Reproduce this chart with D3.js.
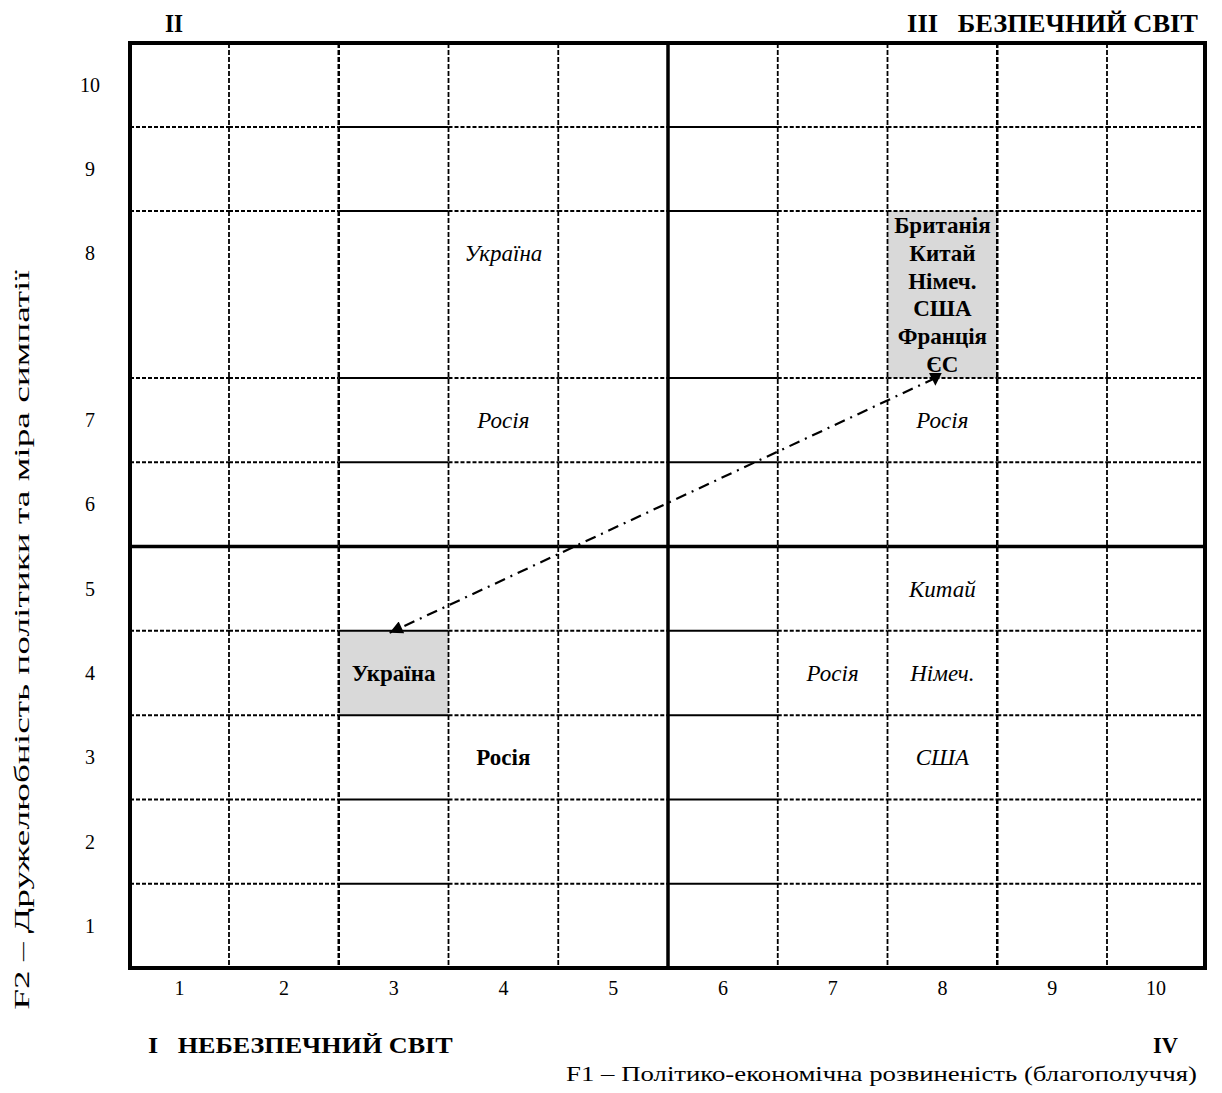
<!DOCTYPE html>
<meta charset="utf-8">
<style>
body { margin: 0; background: #fff; }
text { font-family: "Liberation Serif", "Times New Roman", serif; fill: #000; white-space: pre; }
.tick { font-size: 20px; }
.cell { font-size: 23px; }
.bold { font-weight: bold; }
.ital { font-style: italic; }
</style>
<svg width="1222" height="1093"></svg>
<script src="https://cdn.jsdelivr.net/npm/d3@7"></script>
<script>
// data
const xTicks = [1, 2, 3, 4, 5, 6, 7, 8, 9, 10];
const yTicks = [1, 2, 3, 4, 5, 6, 7, 8, 9, 10];
const colEdges = [1.5, 2.5, 3.5, 4.5, 5.5, 6.5, 7.5, 8.5, 9.5];
const rowEdges = [1.5, 2.5, 3.5, 4.5, 5.5, 6.5, 7.5, 8.5, 9.5];
const solidCols = [3, 6];
const shadedCells = [[3, 4], [8, 8]];
const italicLabels = [
  ['Україна', 4, 8], ['Росія', 4, 7], ['Росія', 8, 7],
  ['Китай', 8, 5], ['Росія', 7, 4], ['Німеч.', 8, 4], ['США', 8, 3]
];
const boldLabels = [['Україна', 3, 4], ['Росія', 4, 3]];
const boxLabels = ['Британія', 'Китай', 'Німеч.', 'США', 'Франція', 'ЄС'];
const boxCell = [8, 8];
const arrowFrom = [8, 7.5];
const arrowTo = [3, 4.5];

const svg = d3.select('svg');

// columns 1 and 10 are a bit narrower, row 8 is double height
const x = d3.scaleLinear().domain([0.5, 1.5, 9.5, 10.5]).range([130, 229, 1107, 1205]);
const y = d3.scaleLinear().domain([0.5, 7.5, 8.5, 10.5]).range([968, 378, 211, 43]);
const halfRow = (y(0.5) - y(1.5)) / 2;
const labelY = v => y(v + 0.5) + halfRow;

// squeeze/stretch a text horizontally to a given width
function fitWidth(sel, target) {
  const w = sel.node().getComputedTextLength();
  const ax = +sel.attr('x'), ay = +sel.attr('y');
  sel.attr('transform', `translate(${ax},${ay}) scale(${target / w},1) translate(${-ax},${-ay})`);
  return sel;
}

// shaded cells
svg.append('g')
  .selectAll('rect')
  .data(shadedCells)
  .join('rect')
  .attr('x', d => x(d[0] - 0.5))
  .attr('y', d => y(d[1] + 0.5))
  .attr('width', d => x(d[0] + 0.5) - x(d[0] - 0.5))
  .attr('height', d => y(d[1] - 0.5) - y(d[1] + 0.5))
  .attr('fill', '#d9d9d9');

// horizontal lines, split per column (cols 3 and 6 are solid)
const hSegs = [];
rowEdges.forEach(r => {
  xTicks.forEach(c => hSegs.push({ r, c }));
});
svg.append('g')
  .selectAll('line')
  .data(hSegs)
  .join('line')
  .attr('x1', d => x(d.c - 0.5))
  .attr('x2', d => x(d.c + 0.5))
  .attr('y1', d => y(d.r))
  .attr('y2', d => y(d.r))
  .attr('stroke', '#000')
  .attr('stroke-width', d => d.r === 5.5 ? 3.5 : 2)
  .attr('stroke-dasharray', d => (d.r === 5.5 || solidCols.includes(d.c)) ? null : '4,2');

// vertical lines
svg.append('g')
  .selectAll('line')
  .data(colEdges)
  .join('line')
  .attr('x1', d => x(d))
  .attr('x2', d => x(d))
  .attr('y1', y(10.5))
  .attr('y2', y(0.5))
  .attr('stroke', '#000')
  .attr('stroke-width', d => d === 5.5 ? 3.5 : (d === 2.5 || d === 8.5 ? 2.5 : 1.8))
  .attr('stroke-dasharray', d => d === 5.5 ? null : '5,2');

// border
svg.append('rect')
  .attr('x', x(0.5))
  .attr('y', y(10.5))
  .attr('width', x(10.5) - x(0.5))
  .attr('height', y(0.5) - y(10.5))
  .attr('fill', 'none')
  .attr('stroke', '#000')
  .attr('stroke-width', 4);

// tick labels
svg.append('g')
  .selectAll('text')
  .data(xTicks)
  .join('text')
  .attr('class', 'tick')
  .attr('x', d => x(d))
  .attr('y', y(0.5) + 27)
  .attr('text-anchor', 'middle')
  .text(d => d);

svg.append('g')
  .selectAll('text')
  .data(yTicks)
  .join('text')
  .attr('class', 'tick')
  .attr('x', 90)
  .attr('y', d => labelY(d) + 7)
  .attr('text-anchor', 'middle')
  .text(d => d);

// cell labels
svg.append('g')
  .selectAll('text')
  .data(italicLabels)
  .join('text')
  .attr('class', 'cell ital')
  .attr('x', d => x(d[1]))
  .attr('y', d => labelY(d[2]) + 8)
  .attr('text-anchor', 'middle')
  .text(d => d[0]);

svg.append('g')
  .selectAll('text')
  .data(boldLabels)
  .join('text')
  .attr('class', 'cell bold')
  .attr('x', d => x(d[1]))
  .attr('y', d => labelY(d[2]) + 8)
  .attr('text-anchor', 'middle')
  .text(d => d[0]);

const boxTop = y(boxCell[1] + 0.5);
const lineH = (y(boxCell[1] - 0.5) - boxTop) / boxLabels.length;
svg.append('g')
  .selectAll('text')
  .data(boxLabels)
  .join('text')
  .attr('class', 'cell bold')
  .attr('x', x(boxCell[0]))
  .attr('y', (d, i) => boxTop + (i + 0.5) * lineH + 8)
  .attr('text-anchor', 'middle')
  .text(d => d)
  .each(function () {
    const s = d3.select(this);
    if (this.getComputedTextLength() > 106) fitWidth(s, 106);
  });

// arrow
const defs = svg.append('defs');
defs.append('marker')
  .attr('id', 'head')
  .attr('viewBox', '0 0 10 10')
  .attr('refX', 10).attr('refY', 5)
  .attr('markerWidth', 19).attr('markerHeight', 13)
  .attr('markerUnits', 'userSpaceOnUse')
  .attr('orient', 'auto')
  .append('path').attr('d', 'M0,0L10,5L0,10z').attr('fill', '#000');
defs.append('marker')
  .attr('id', 'down')
  .attr('viewBox', '0 0 10 10')
  .attr('refX', 4).attr('refY', 5)
  .attr('markerWidth', 13).attr('markerHeight', 15)
  .attr('markerUnits', 'userSpaceOnUse')
  .attr('orient', '90')
  .append('path').attr('d', 'M0,0L10,5L0,10z').attr('fill', '#000');

svg.append('line')
  .attr('x1', x(arrowFrom[0]) - 7)
  .attr('y1', y(arrowFrom[1]))
  .attr('x2', x(arrowTo[0]) - 4)
  .attr('y2', y(arrowTo[1]) + 2)
  .attr('stroke', '#000')
  .attr('stroke-width', 2.2)
  .attr('stroke-dasharray', '11,6,2,6')
  .attr('marker-start', 'url(#down)')
  .attr('marker-end', 'url(#head)');

// quadrant and axis titles
const addText = (str, px, py, anchor, len, bold, size) => fitWidth(svg.append('text')
  .attr('class', bold ? 'bold' : null)
  .attr('x', px).attr('y', py)
  .attr('text-anchor', anchor)
  .attr('font-size', size)
  .text(str), len);

addText('II', 165, 32, 'start', 18, true, '25px');
addText('III   БЕЗПЕЧНИЙ СВІТ', 1198, 32, 'end', 291, true, '25px');
addText('I   НЕБЕЗПЕЧНИЙ СВІТ', 148, 1053, 'start', 305, true, '23px');
addText('IV', 1178, 1053, 'end', 25, true, '23px');
addText('F1 – Політико-економічна розвиненість (благополуччя)', 1197, 1081, 'end', 631, false, '22px');

const yTitle = svg.append('text')
  .attr('x', 0).attr('y', 0)
  .attr('text-anchor', 'middle')
  .attr('font-size', '22px')
  .text('F2 – Дружелюбність політики та міра симпатії');
const yw = yTitle.node().getComputedTextLength();
yTitle.attr('transform', `translate(29,640) rotate(-90) scale(${740 / yw},1)`);
</script>
